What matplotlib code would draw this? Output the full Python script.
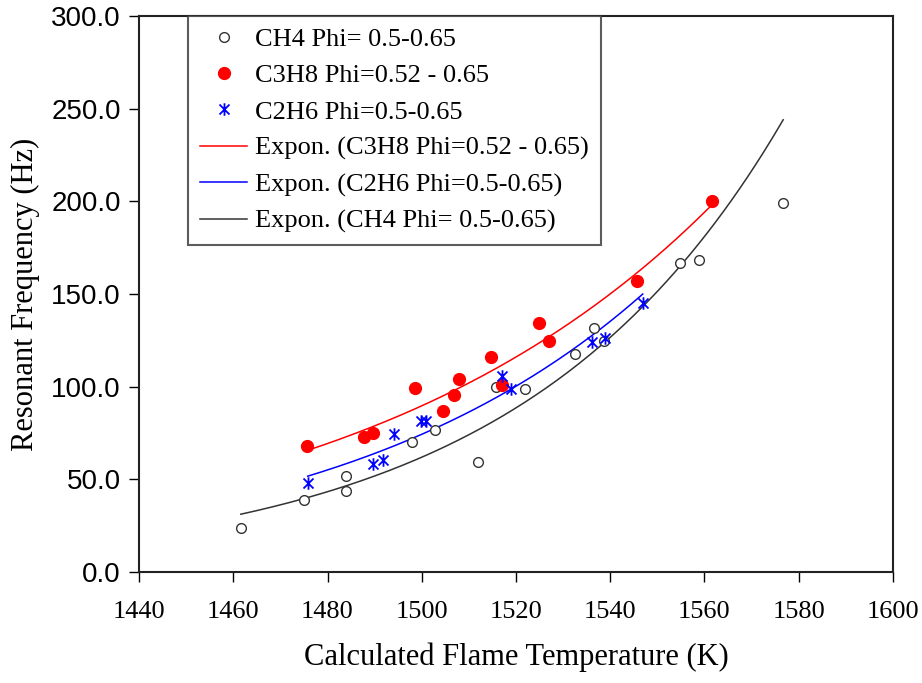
import numpy as np
import matplotlib
matplotlib.use("Agg")
import matplotlib.pyplot as plt
from matplotlib.path import Path

# ---- data ----
ch4_T = [1461.6, 1475.0, 1483.9, 1483.9, 1497.9, 1502.8, 1511.9, 1515.8,
         1521.9, 1532.5, 1536.6, 1538.7, 1554.8, 1558.8, 1576.7]
ch4_F = [23.7, 38.8, 51.7, 43.6, 70.0, 76.5, 59.2, 99.6,
         98.5, 117.4, 131.9, 124.4, 166.9, 168.5, 199.2]

c3h8_T = [1475.7, 1487.8, 1489.7, 1498.6, 1504.6, 1506.9, 1508.0, 1514.8,
          1517.1, 1524.8, 1527.0, 1545.6, 1561.7]
c3h8_F = [68.2, 72.7, 74.9, 99.2, 86.7, 95.7, 103.9, 115.8,
          101.1, 134.1, 124.9, 157.0, 200.2]

c2h6_T = [1475.8, 1489.7, 1491.8, 1494.1, 1499.9, 1500.8, 1517.1, 1518.9,
          1536.1, 1538.9, 1546.9]
c2h6_F = [47.8, 58.5, 60.7, 74.3, 81.3, 81.3, 105.7, 98.9,
          124.0, 126.2, 145.0]

x_ticks = [1440, 1460, 1480, 1500, 1520, 1540, 1560, 1580, 1600]
y_ticks = [0, 50, 100, 150, 200, 250, 300]

lab_ch4 = "CH4 Phi= 0.5-0.65"
lab_c3h8 = "C3H8 Phi=0.52 - 0.65"
lab_c2h6 = "C2H6 Phi=0.5-0.65"


def expon_fit(T, F):
    T = np.asarray(T, float)
    F = np.asarray(F, float)
    b, lna = np.polyfit(T, np.log(F), 1)
    xs = np.linspace(T.min(), T.max(), 200)
    return xs, np.exp(lna + b * xs)


serif = "Liberation Serif"
sans = "Liberation Sans"

fig = plt.figure(figsize=(9.22, 6.83), dpi=100)
ax = fig.add_axes([0.1508, 0.1625, 0.8177, 0.8141])

# asterisk marker: X with vertical stroke
star = Path([(-1, -1), (1, 1), (-1, 1), (1, -1), (0, -1.25), (0, 1.25)],
            [Path.MOVETO, Path.LINETO, Path.MOVETO, Path.LINETO, Path.MOVETO, Path.LINETO])

h1, = ax.plot(ch4_T, ch4_F, linestyle="none", marker="o", markersize=7,
              markerfacecolor="white", markeredgecolor="#333333", markeredgewidth=1.0,
              label=lab_ch4, zorder=4)
h2, = ax.plot(c3h8_T, c3h8_F, linestyle="none", marker="o", markersize=8.5,
              markerfacecolor="red", markeredgecolor="red", label=lab_c3h8, zorder=4)
h3, = ax.plot(c2h6_T, c2h6_F, linestyle="none", marker=star, markersize=9,
              markeredgecolor="blue", markeredgewidth=1.3, label=lab_c2h6, zorder=5)

xs, ys = expon_fit(c3h8_T, c3h8_F)
h4, = ax.plot(xs, ys, color="red", lw=1.1, label="Expon. (" + lab_c3h8 + ")", zorder=3)
xs, ys = expon_fit(c2h6_T, c2h6_F)
h5, = ax.plot(xs, ys, color="blue", lw=1.1, label="Expon. (" + lab_c2h6 + ")", zorder=3)
xs, ys = expon_fit(ch4_T, ch4_F)
h6, = ax.plot(xs, ys, color="#333333", lw=1.1, label="Expon. (" + lab_ch4 + ")", zorder=3)

ax.set_xlim(1440, 1600)
ax.set_ylim(0, 300)
ax.set_xticks(x_ticks)
ax.set_yticks(y_ticks)
ax.set_xticklabels([str(v) for v in x_ticks], fontfamily=serif, fontsize=19)
ax.set_yticklabels(["%.1f" % v for v in y_ticks], fontfamily=sans, fontsize=20)
ax.tick_params(direction="out", length=7, width=1.0, colors="black", pad=6)
ax.tick_params(axis="x", pad=14)
for s in ax.spines.values():
    s.set_linewidth(1.5)
    s.set_color("#222222")

ax.set_xlabel("Calculated Flame Temperature (K)", fontfamily=serif, fontsize=22, labelpad=14)
ax.set_ylabel("Resonant Frequency (Hz)", fontfamily=serif, fontsize=22, labelpad=8)

leg = ax.legend(handles=[h1, h2, h3, h4, h5, h6], loc="upper left",
                bbox_to_anchor=(0.065, 1.0), prop={"family": serif, "size": 19},
                frameon=True, fancybox=False, borderaxespad=0, handlelength=1.8,
                handletextpad=0.3, labelspacing=0.48, borderpad=0.45)
leg.get_frame().set_edgecolor("#333333")
leg.get_frame().set_linewidth(1.5)

fig.savefig("out.png", dpi=100)
